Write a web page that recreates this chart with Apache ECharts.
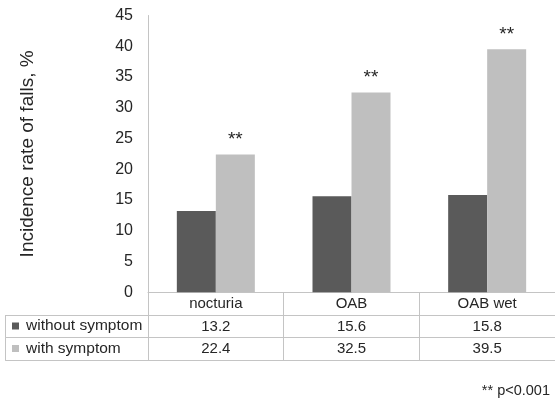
<!DOCTYPE html>
<html>
<head>
<meta charset="utf-8">
<style>
  html, body { margin: 0; padding: 0; background: #ffffff; }
  #chart { width: 555px; height: 398px; }
</style>
<script src="https://cdn.jsdelivr.net/npm/echarts@6/dist/echarts.min.js"></script>
</head>
<body>
<div id="chart"></div>
<script>
const categories = ['nocturia', 'OAB', 'OAB wet'];
const seriesNames = ['without symptom', 'with symptom'];
const withoutSymptom = [13.2, 15.6, 15.8];
const withSymptom = [22.4, 32.5, 39.5];
const significance = ['**', '**', '**'];
const yMin = 0, yMax = 45, yStep = 5;
const yTitle = 'Incidence rate of falls, %';
const footnote = '** p<0.001';

const FONT = 'Liberation Sans, Arial, sans-serif';
const LINE = '#c4c4c4';
const TEXT = '#262626';
const DARK = '#5a5a5a';
const LIGHT = '#bfbfbf';

const chart = echarts.init(document.getElementById('chart'), null, { renderer: 'canvas' });

function tableAxis(offset, tickLen, labels, grid) {
  return {
    type: 'category',
    gridIndex: grid,
    position: 'bottom',
    offset: offset,
    data: grid === 0 ? categories : [''],
    axisLine: { show: true, lineStyle: { color: LINE, width: 1 } },
    axisTick: { show: tickLen > 0, length: tickLen, interval: 0, lineStyle: { color: LINE, width: 1 } },
    axisLabel: labels ? {
      show: true, interval: 0, margin: 4, fontSize: 15, color: TEXT, fontFamily: FONT,
      formatter: labels
    } : { show: false },
    splitLine: { show: false }
  };
}

const option = {
  backgroundColor: '#ffffff',
  animation: false,
  textStyle: { fontFamily: FONT },
  title: {
    text: footnote,
    right: 0,
    top: 378,
    textStyle: { fontSize: 14.5, fontWeight: 'normal', color: TEXT, fontFamily: FONT }
  },
  legend: {
    orient: 'vertical',
    left: 7,
    top: 313,
    itemWidth: 7,
    itemHeight: 7,
    itemGap: 6.5,
    icon: 'rect',
    data: seriesNames,
    textStyle: { fontSize: 15.5, color: TEXT, fontFamily: FONT, lineHeight: 16, padding: [0, 0, 0, 2] },
    selectedMode: false
  },
  grid: [
    { left: 148, top: 15.5, width: 408, height: 276.8, containLabel: false },
    { left: 5.7, top: 300, width: 142.3, height: 15, containLabel: false }
  ],
  xAxis: [
    tableAxis(0, 23, (v) => v, 0),
    tableAxis(23, 22, (v, i) => withoutSymptom[i].toFixed(1), 0),
    tableAxis(45, 23.5, (v, i) => withSymptom[i].toFixed(1), 0),
    tableAxis(68.4, 0, null, 0),
    tableAxis(0, 22.3, null, 1),
    tableAxis(22.3, 23.4, null, 1),
    tableAxis(45.7, 0, null, 1)
  ],
  yAxis: [
    {
      type: 'value',
      gridIndex: 0,
      min: yMin, max: yMax, interval: yStep,
      axisLine: { show: true, lineStyle: { color: LINE, width: 1 } },
      axisTick: { show: false },
      splitLine: { show: false },
      axisLabel: { fontSize: 16, color: TEXT, margin: 15, fontFamily: FONT },
      name: yTitle,
      nameLocation: 'middle',
      nameGap: 111,
      nameTextStyle: { fontSize: 19, color: TEXT, fontFamily: FONT }
    },
    { type: 'value', gridIndex: 1, show: false }
  ],
  series: [
    {
      name: seriesNames[0],
      type: 'bar',
      xAxisIndex: 0, yAxisIndex: 0,
      data: withoutSymptom,
      barWidth: 39,
      barGap: '0%',
      itemStyle: { color: DARK }
    },
    {
      name: seriesNames[1],
      type: 'bar',
      xAxisIndex: 0, yAxisIndex: 0,
      data: withSymptom,
      barWidth: 39,
      barGap: '0%',
      itemStyle: { color: LIGHT },
      label: {
        show: true,
        position: 'top',
        distance: 5,
        formatter: (p) => significance[p.dataIndex],
        fontSize: 19,
        color: TEXT,
        fontFamily: FONT
      }
    }
  ]
};

chart.setOption(option);
</script>
</body>
</html>
